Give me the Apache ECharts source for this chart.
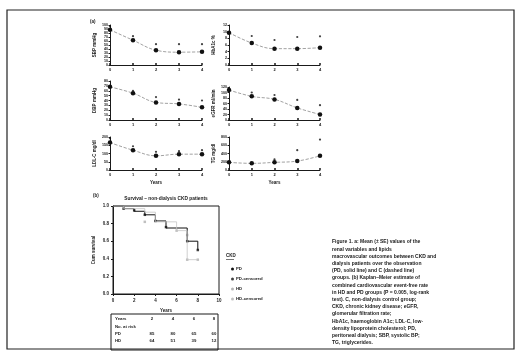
<!DOCTYPE html>
<html>
<head>
<meta charset="utf-8">
<script src="https://cdn.jsdelivr.net/npm/echarts@6/dist/echarts.min.js"></script>
<style>
  html, body { margin: 0; padding: 0; background: #fff; }
  #chart { width: 517px; height: 351px; filter: blur(0.55px); }
</style>
</head>
<body>
<div id="chart"></div>
<script>
// small panels: follow-up years on x
const years = [0, 1, 2, 3, 4];

const sbpMean = [88, 62, 37, 32, 33];
const sbpUpper = [97, 72, 52, 52, 52];
const hba1cMean = [9.7, 6.6, 4.9, 4.9, 5.2];
const hba1cUpper = [null, 8.7, 7.5, 8.4, 8.6];
const dbpMean = [68, 55, 36, 33, 26];
const dbpUpper = [null, 60, 47, 42, 40];
const egfrMean = [109, 86, 75, 44, 20];
const egfrUpper = [null, 100, 91, 73, 54];
const ldlMean = [166, 120, 86, 96, 96];
const ldlUpper = [192, 144, 110, 114, 120];
const tgMean = [185, 161, 185, 216, 343];
const tgUpper = [null, null, 257, 480, 737];

// Kaplan-Meier
const pdTime = [0, 1, 2, 3, 4, 5, 7, 8];
const pdSurv = [1, 0.97, 0.94, 0.9, 0.83, 0.75, 0.6, 0.5];
const pdCensTime = [1, 2, 3, 4, 5, 7, 8];
const pdCensSurv = [0.97, 0.95, 0.9, 0.83, 0.76, 0.6, 0.5];
const hdTime = [0, 1, 3, 4, 6, 7, 7, 8];
const hdSurv = [1, 0.97, 0.93, 0.82, 0.72, 0.67, 0.39, 0.39];
const hdCensTime = [3, 6, 7, 7, 8];
const hdCensSurv = [0.82, 0.72, 0.67, 0.39, 0.39];

// number at risk table
const riskYears = [2, 4, 6, 8];
const pdAtRisk = [85, 80, 65, 60];
const hdAtRisk = [64, 51, 39, 12];

const captionLines = [
  "Figure 1. a: Mean (± SE) values of the",
  "renal variables and lipids",
  "macrovascular outcomes between CKD and",
  "dialysis patients over the observation",
  "(PD, solid line) and C (dashed line)",
  "groups. (b) Kaplan–Meier estimate of",
  "combined cardiovascular event-free rate",
  "in HD and PD groups (P = 0.005, log-rank",
  "test). C, non-dialysis control group;",
  "CKD, chronic kidney disease; eGFR,",
  "glomerular filtration rate;",
  "HbA1c, haemoglobin A1c; LDL-C, low-",
  "density lipoprotein cholesterol; PD,",
  "peritoneal dialysis; SBP, systolic BP;",
  "TG, triglycerides."
];

const FONT = "Liberation Sans";
const ink = "#1a1a1a";

const panels = [
  { name: "SBP mmHg", mean: sbpMean, upper: sbpUpper, max: 100, step: 10, left: 110, top: 25, width: 92, height: 40 },
  { name: "HbA1c %", mean: hba1cMean, upper: hba1cUpper, max: 12, step: 2, left: 229, top: 25, width: 91, height: 40 },
  { name: "DBP mmHg", mean: dbpMean, upper: dbpUpper, max: 80, step: 10, left: 110, top: 81, width: 92, height: 39 },
  { name: "eGFR ml/min", mean: egfrMean, upper: egfrUpper, max: 120, step: 20, left: 229, top: 87, width: 91, height: 33 },
  { name: "LDL-C mg/dl", mean: ldlMean, upper: ldlUpper, max: 200, step: 50, left: 110, top: 137, width: 92, height: 33, xName: "Years" },
  { name: "TG mg/dl", mean: tgMean, upper: tgUpper, max: 800, step: 200, left: 229, top: 137, width: 91, height: 33, xName: "Years" }
];

const grid = [];
const xAxis = [];
const yAxis = [];
const series = [];

panels.forEach((p, i) => {
  grid.push({ left: p.left, top: p.top, width: p.width, height: p.height });
  xAxis.push({
    gridIndex: i, type: "value", min: 0, max: 4, interval: 1,
    name: p.xName || "", nameLocation: "middle", nameGap: 10,
    nameTextStyle: { fontSize: 4.5, fontWeight: "bold", color: ink, fontFamily: FONT },
    axisLine: { lineStyle: { color: ink, width: 1 } },
    axisTick: { inside: true, length: 2, lineStyle: { color: ink, width: 1.5 } },
    axisLabel: { fontSize: 4, fontWeight: "bold", color: ink, margin: 3, fontFamily: FONT },
    splitLine: { show: false }
  });
  yAxis.push({
    gridIndex: i, type: "value", min: 0, max: p.max, interval: p.step,
    name: p.name, nameLocation: "middle", nameGap: 13, nameRotate: 90,
    nameTextStyle: { fontSize: 4.5, fontWeight: "bold", color: ink, fontFamily: FONT },
    axisLine: { show: true, lineStyle: { color: ink, width: 1 } },
    axisTick: { show: true, length: 1.5, lineStyle: { color: ink } },
    axisLabel: { fontSize: 3.6, fontWeight: "bold", color: ink, margin: 2, fontFamily: FONT },
    splitLine: { show: false }
  });
  series.push({
    type: "line", xAxisIndex: i, yAxisIndex: i, smooth: 0.4,
    data: years.map((y, k) => [y, p.mean[k]]),
    symbol: "circle", symbolSize: 4.5,
    itemStyle: { color: "#111" },
    lineStyle: { color: "#8a8a8a", type: "dashed", width: 0.8 }
  });
  series.push({
    type: "scatter", xAxisIndex: i, yAxisIndex: i,
    data: years.map((y, k) => [y, p.upper[k]]).filter(d => d[1] != null),
    symbol: "circle", symbolSize: 2.2,
    itemStyle: { color: "#111" }
  });
});

// KM grid
const km = panels.length;
grid.push({ left: 113, top: 206, width: 106, height: 88, show: true, borderColor: ink, borderWidth: 1 });
xAxis.push({
  gridIndex: km, type: "value", min: 0, max: 10, interval: 2,
  name: "Years", nameLocation: "middle", nameGap: 14,
  nameTextStyle: { fontSize: 4.5, fontWeight: "bold", color: ink, fontFamily: FONT },
  axisLine: { lineStyle: { color: ink, width: 1 } },
  axisTick: { length: 2, lineStyle: { color: ink } },
  axisLabel: { fontSize: 4.5, fontWeight: "bold", color: ink, margin: 4, fontFamily: FONT },
  splitLine: { show: false }
});
yAxis.push({
  gridIndex: km, type: "value", min: 0, max: 1, interval: 0.2,
  name: "Cum survival", nameLocation: "middle", nameGap: 17, nameRotate: 90,
  nameTextStyle: { fontSize: 4.5, fontWeight: "bold", color: ink, fontFamily: FONT },
  axisLine: { lineStyle: { color: ink, width: 1 } },
  axisTick: { length: 2, lineStyle: { color: ink } },
  axisLabel: { fontSize: 4.5, fontWeight: "bold", color: ink, margin: 4, fontFamily: FONT,
    formatter: v => v.toFixed(1) },
  splitLine: { show: false }
});
series.push({
  name: "PD", type: "line", step: "end", xAxisIndex: km, yAxisIndex: km,
  data: pdTime.map((t, k) => [t, pdSurv[k]]),
  showSymbol: false, symbol: "circle", symbolSize: 3,
  itemStyle: { color: "#111" }, lineStyle: { color: "#111", width: 1 }
});
series.push({
  name: "PD-censored", type: "scatter", xAxisIndex: km, yAxisIndex: km,
  data: pdCensTime.map((t, k) => [t, pdCensSurv[k]]),
  symbol: "rect", symbolSize: 2.5, itemStyle: { color: "#111" }
});
series.push({
  name: "HD", type: "line", step: "end", xAxisIndex: km, yAxisIndex: km,
  data: hdTime.map((t, k) => [t, hdSurv[k]]),
  showSymbol: false, symbol: "circle", symbolSize: 3,
  itemStyle: { color: "#b5b5b5" }, lineStyle: { color: "#c4c4c4", width: 0.8 }
});
series.push({
  name: "HD-censored", type: "scatter", xAxisIndex: km, yAxisIndex: km,
  data: hdCensTime.map((t, k) => [t, hdCensSurv[k]]),
  symbol: "rect", symbolSize: 2.5, itemStyle: { color: "#b0b0b0" }
});

// graphic texts: labels, table, caption
const txt = (x, y, text, size, align, weight) => ({
  type: "text", x: x, y: y,
  style: { text: text, fill: ink, fontSize: size, fontWeight: weight || "bold",
    fontFamily: FONT, align: align || "left", verticalAlign: "middle" }
});

const graphic = [
  { type: "rect", shape: { x: 7, y: 10, width: 507, height: 339 },
    style: { fill: "none", stroke: "#222", lineWidth: 1.2 } },
  txt(90, 22, "(a)", 4.5),
  txt(93, 196, "(b)", 4.5),
  txt(166, 199, "Survival – non-dialysis CKD patients", 4.8, "center"),
  txt(226, 256, "CKD", 4.5),
  { type: "line", shape: { x1: 226, y1: 259.5, x2: 234, y2: 259.5 }, style: { stroke: ink, lineWidth: 0.6 } },
  { type: "rect", shape: { x: 111, y: 314, width: 107, height: 36 },
    style: { fill: "none", stroke: ink, lineWidth: 1 } }
];

const colX = [152, 173, 194, 214];
graphic.push(txt(115, 319, "Years", 4.3));
graphic.push(txt(115, 326.5, "No. at risk", 4.3));
graphic.push(txt(115, 334, "PD", 4.3));
graphic.push(txt(115, 341, "HD", 4.3));
riskYears.forEach((v, k) => {
  graphic.push(txt(colX[k], 319, String(v), 4.3, "center"));
  graphic.push(txt(colX[k], 334, String(pdAtRisk[k]), 4.3, "center"));
  graphic.push(txt(colX[k], 341, String(hdAtRisk[k]), 4.3, "center"));
});

captionLines.forEach((line, k) => {
  graphic.push(txt(332, 242 + k * 7.2, line, 5));
});

const chart = echarts.init(document.getElementById("chart"), null, { renderer: "canvas" });
chart.setOption({
  animation: false,
  backgroundColor: "#fff",
  grid: grid,
  xAxis: xAxis,
  yAxis: yAxis,
  series: series,
  legend: {
    data: ["PD", "PD-censored", "HD", "HD-censored"],
    orient: "vertical", left: 226, top: 262,
    icon: "circle", itemWidth: 3, itemHeight: 3, itemGap: 6,
    textStyle: { fontSize: 4.3, fontWeight: "bold", color: ink, fontFamily: FONT, padding: [0, 0, 0, -3] }
  },
  graphic: graphic
});
</script>
</body>
</html>
